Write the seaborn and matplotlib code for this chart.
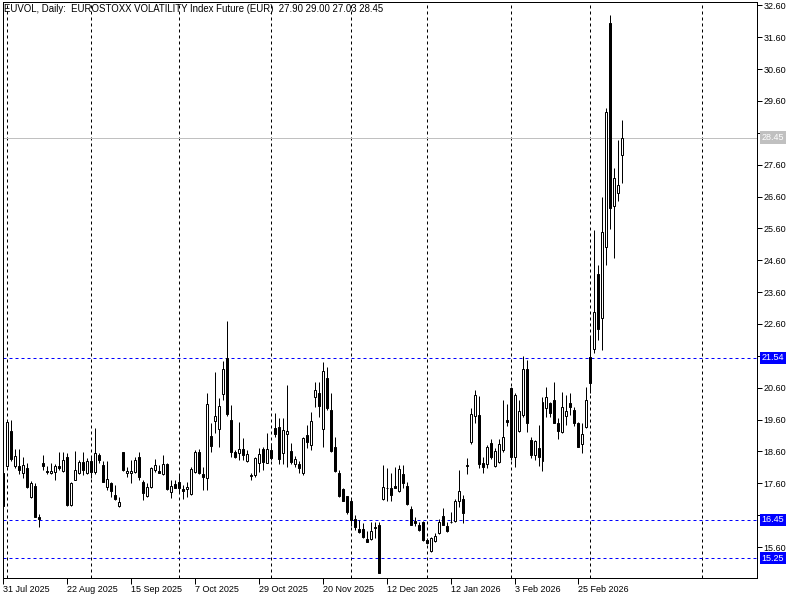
import numpy as np
import pandas as pd
import seaborn as sns
import matplotlib
matplotlib.use("Agg")
import matplotlib.pyplot as plt
from matplotlib.transforms import blended_transform_factory

# daily bars, 31 Jul 2025 .. 12 Mar 2026 (index = bar number)
opens = [
    17.91, 18.15, 19.24, 18.13, 18.14, 17.93, 18.07, 17.18, 17.51, 16.55,
    18.25, 18.00, 17.91, 17.94, 18.14, 18.00, 18.42, 16.91, 17.70, 17.93,
    18.27, 17.91, 18.30, 17.94, 18.49, 18.17, 17.47, 17.60, 17.23, 16.90,
    18.57, 17.91, 17.91, 17.96, 18.42, 17.65, 17.21, 17.47, 18.02, 18.00,
    17.89, 18.20, 17.32, 17.58, 17.64, 17.42, 17.41, 17.27, 17.96, 18.57,
    17.89, 17.76, 19.09, 19.56, 19.29, 20.39, 21.52, 19.59, 18.57, 18.56,
    18.67, 18.31, 17.83, 17.86, 18.25, 18.67, 18.25, 18.64, 19.35, 19.38,
    18.54, 19.15, 18.61, 18.20, 18.22, 17.91, 19.11, 18.80, 20.30, 20.43,
    19.29, 20.89, 19.90, 18.73, 17.91, 17.41, 17.20, 17.05, 16.48, 16.16,
    16.16, 15.85, 15.85, 16.21, 16.29, 17.10, 17.44, 17.44, 17.51, 17.37,
    17.89, 17.51, 16.79, 16.42, 16.29, 16.39, 15.82, 15.47, 15.79, 16.03,
    16.57, 16.26, 16.38, 16.42, 17.04, 17.10, 18.14, 18.89, 19.72, 19.74,
    18.25, 18.22, 18.85, 18.14, 18.28, 18.64, 19.59, 20.58, 18.42, 19.25,
    19.74, 21.18, 18.96, 18.48, 18.70, 18.31, 19.97, 20.11, 20.21, 19.48,
    19.22, 19.72, 20.11, 19.90, 19.48, 18.83, 19.37, 21.55, 21.80, 24.18,
    22.78, 25.03, 32.06, 26.31, 26.72, 27.90]
highs = [
    17.95, 19.58, 19.59, 18.67, 18.67, 18.43, 18.23, 17.67, 17.60, 16.64,
    18.49, 18.14, 18.23, 18.21, 18.59, 18.59, 18.54, 17.65, 18.61, 18.33,
    18.59, 18.38, 18.43, 19.33, 18.54, 18.31, 18.30, 17.65, 17.55, 17.18,
    18.59, 18.12, 18.33, 18.42, 18.59, 17.70, 17.60, 18.12, 18.35, 18.17,
    18.49, 18.23, 17.70, 17.70, 17.89, 17.55, 17.65, 18.12, 18.64, 18.67,
    18.12, 20.44, 19.48, 21.10, 20.27, 21.45, 22.69, 20.06, 18.64, 19.53,
    19.01, 18.64, 17.91, 18.43, 18.70, 18.75, 19.17, 18.85, 19.80, 19.64,
    19.64, 20.68, 18.85, 18.46, 18.31, 19.06, 19.43, 19.85, 20.79, 20.79,
    21.42, 21.26, 20.42, 19.06, 18.02, 17.44, 17.20, 17.13, 16.60, 16.45,
    16.34, 16.11, 16.39, 16.39, 16.39, 18.17, 18.07, 17.91, 18.12, 18.17,
    18.17, 17.65, 16.89, 16.53, 16.39, 16.42, 15.87, 15.90, 16.03, 16.47,
    16.81, 16.39, 16.71, 17.10, 18.02, 17.23, 18.38, 19.95, 20.53, 20.34,
    18.42, 18.80, 18.99, 18.70, 18.98, 20.21, 20.08, 20.63, 20.42, 20.21,
    21.60, 21.47, 19.06, 18.96, 19.43, 20.32, 20.63, 20.16, 20.79, 19.64,
    20.47, 20.37, 20.42, 20.00, 19.53, 19.48, 20.63, 22.19, 25.55, 24.45,
    26.60, 29.37, 32.30, 27.51, 28.37, 29.00]
lows = [
    16.85, 18.10, 18.30, 18.08, 17.88, 17.78, 17.44, 17.13, 16.53, 16.24,
    18.02, 17.89, 17.89, 17.70, 18.02, 17.96, 16.89, 16.89, 17.70, 17.89,
    17.86, 17.89, 17.76, 17.90, 18.23, 17.65, 17.39, 17.16, 17.08, 16.86,
    18.00, 17.81, 17.60, 17.91, 17.70, 17.08, 17.18, 17.44, 17.96, 17.91,
    17.86, 17.39, 17.15, 17.44, 17.34, 17.10, 17.16, 17.23, 17.91, 17.88,
    17.39, 17.39, 18.59, 19.17, 18.75, 20.20, 19.70, 18.43, 18.38, 18.33,
    18.33, 18.28, 17.70, 17.81, 17.96, 18.02, 18.23, 18.33, 19.06, 18.21,
    18.21, 18.12, 18.21, 18.12, 17.91, 17.86, 18.70, 18.64, 20.00, 19.69,
    18.75, 19.90, 18.59, 17.94, 17.18, 17.05, 16.64, 16.26, 16.13, 16.05,
    15.87, 15.75, 15.82, 15.87, 14.79, 17.08, 17.05, 17.05, 17.44, 17.34,
    17.44, 16.92, 16.29, 16.26, 16.11, 15.80, 15.69, 15.45, 15.77, 16.01,
    16.29, 16.08, 16.34, 16.39, 16.86, 16.34, 17.88, 18.83, 19.50, 18.07,
    17.91, 18.07, 18.35, 18.12, 18.25, 18.59, 19.40, 18.33, 18.12, 19.22,
    19.69, 19.22, 18.38, 18.33, 18.14, 18.00, 19.69, 19.67, 19.48, 18.98,
    19.19, 19.43, 19.74, 19.40, 18.73, 18.56, 19.33, 20.42, 21.70, 22.10,
    21.78, 24.45, 25.57, 24.66, 26.47, 27.03]
closes = [
    16.90, 19.51, 18.36, 18.46, 18.02, 18.17, 17.49, 17.60, 16.55, 16.49,
    18.15, 17.96, 18.00, 18.14, 18.07, 18.33, 16.91, 17.61, 18.02, 18.27,
    18.02, 18.30, 17.96, 18.54, 18.33, 17.65, 17.73, 17.37, 17.10, 17.01,
    18.02, 17.99, 17.99, 18.33, 17.81, 17.30, 17.47, 18.07, 18.17, 17.93,
    18.20, 17.42, 17.51, 17.46, 17.46, 17.36, 17.47, 18.04, 18.57, 17.91,
    17.81, 20.08, 18.78, 19.71, 20.04, 21.18, 19.77, 18.59, 18.43, 18.67,
    18.49, 18.51, 17.85, 18.38, 18.51, 18.26, 18.67, 18.38, 19.15, 18.36,
    19.27, 19.25, 18.28, 18.35, 18.09, 19.03, 18.90, 19.55, 20.53, 20.03,
    21.12, 19.97, 18.62, 17.99, 17.21, 17.05, 16.69, 16.45, 16.24, 16.08,
    15.90, 15.77, 16.11, 16.23, 14.79, 17.47, 17.45, 17.23, 17.44, 18.04,
    17.62, 16.95, 16.29, 16.34, 16.13, 15.82, 15.72, 15.87, 15.95, 16.38,
    16.29, 16.10, 16.40, 17.05, 17.36, 16.66, 18.16, 19.77, 20.37, 18.22,
    18.12, 18.75, 18.42, 18.62, 18.83, 19.04, 19.53, 18.42, 20.37, 19.88,
    21.18, 19.50, 18.48, 18.93, 18.42, 20.14, 20.32, 19.82, 19.50, 19.25,
    20.00, 19.88, 20.00, 19.48, 18.75, 19.14, 20.21, 20.74, 22.99, 22.43,
    25.48, 29.24, 26.25, 27.17, 26.96, 28.45]

tick_bars = [0, 16, 32, 48, 64, 80, 96, 112, 128, 144]
tick_labels = ["31 Jul 2025", "22 Aug 2025", "15 Sep 2025", "7 Oct 2025",
               "29 Oct 2025", "20 Nov 2025", "12 Dec 2025", "12 Jan 2026",
               "3 Feb 2026", "25 Feb 2026"]
month_starts = [1, 22, 44, 67, 87, 106, 127, 147, 175]
levels = [21.54, 16.45, 15.25]
title = "EUVOL, Daily:  EUROSTOXX VOLATILITY Index Future (EUR)  27.90 29.00 27.03 28.45"

df = pd.DataFrame({"open": opens, "high": highs, "low": lows, "close": closes})
df["bar"] = np.arange(len(df))
up = df[df["close"] >= df["open"]]
down = df[df["close"] < df["open"]]

sns.set_style("white")
plt.rcParams["font.family"] = ["Liberation Sans", "DejaVu Sans"]
FS = 6.5
LW = 0.72

fig = plt.figure(figsize=(8, 6), dpi=100)
ax = fig.add_axes([3 / 800, 22 / 600, 754 / 800, 576 / 600])

for m in month_starts:
    ax.axvline(m, color="black", lw=LW, ls=(0, (3, 3)), zorder=1)
for lv in levels:
    ax.axhline(lv, color="#0000FF", lw=LW, ls=(0, (3, 3)), zorder=2)
ax.axhline(closes[-1], color="#C0C0C0", lw=LW, zorder=2)

ax.vlines(df["bar"], df["low"], df["high"], color="black", lw=LW, zorder=3)
ax.bar(up["bar"], up["close"] - up["open"], bottom=up["open"], width=0.5,
       facecolor="white", edgecolor="black", lw=LW, zorder=4)
ax.bar(down["bar"], down["open"] - down["close"], bottom=down["close"], width=0.5,
       facecolor="black", edgecolor="black", lw=LW, zorder=4)

ax.set_xlim(0.175, 188.675)
ax.set_ylim(14.627, 32.706)

# price scale; labels sitting under a price box are hidden by it
marked = levels + [closes[-1]]
yt = np.arange(15.6, 32.61, 1.0)
ax.set_yticks(yt)
ax.set_yticklabels(["" if min(abs(v - m) for m in marked) < 0.25 else f"{v:.2f}" for v in yt])
ax.tick_params(axis="y", left=False, right=True, labelleft=False, labelright=True,
               direction="out", length=3.5, width=LW, pad=1, labelsize=FS, colors="black")
ax.set_xticks(tick_bars)
ax.set_xticklabels(tick_labels, ha="left")
ax.tick_params(axis="x", bottom=True, direction="out", length=4, width=LW, pad=1,
               labelsize=FS, colors="black")
for s in ax.spines.values():
    s.set_color("black")
    s.set_linewidth(LW)

trans = blended_transform_factory(ax.transAxes, ax.transData)
for lv, col in [(levels[0], "#0000FF"), (levels[1], "#0000FF"), (levels[2], "#0000FF"),
                (closes[-1], "#C0C0C0")]:
    ax.text(1 + 4.5 / 754, lv, f"{lv:.2f}", transform=trans, ha="left", va="center",
            color="white", fontsize=FS, clip_on=False, zorder=6,
            bbox=dict(boxstyle="square,pad=0.18", fc=col, ec="none"))

ax.annotate(title, xy=(0, 1), xycoords="axes fraction", xytext=(1.5, -1.5),
            textcoords="offset pixels", ha="left", va="top", fontsize=6.9, color="black")

fig.savefig("out.png", dpi=100)
